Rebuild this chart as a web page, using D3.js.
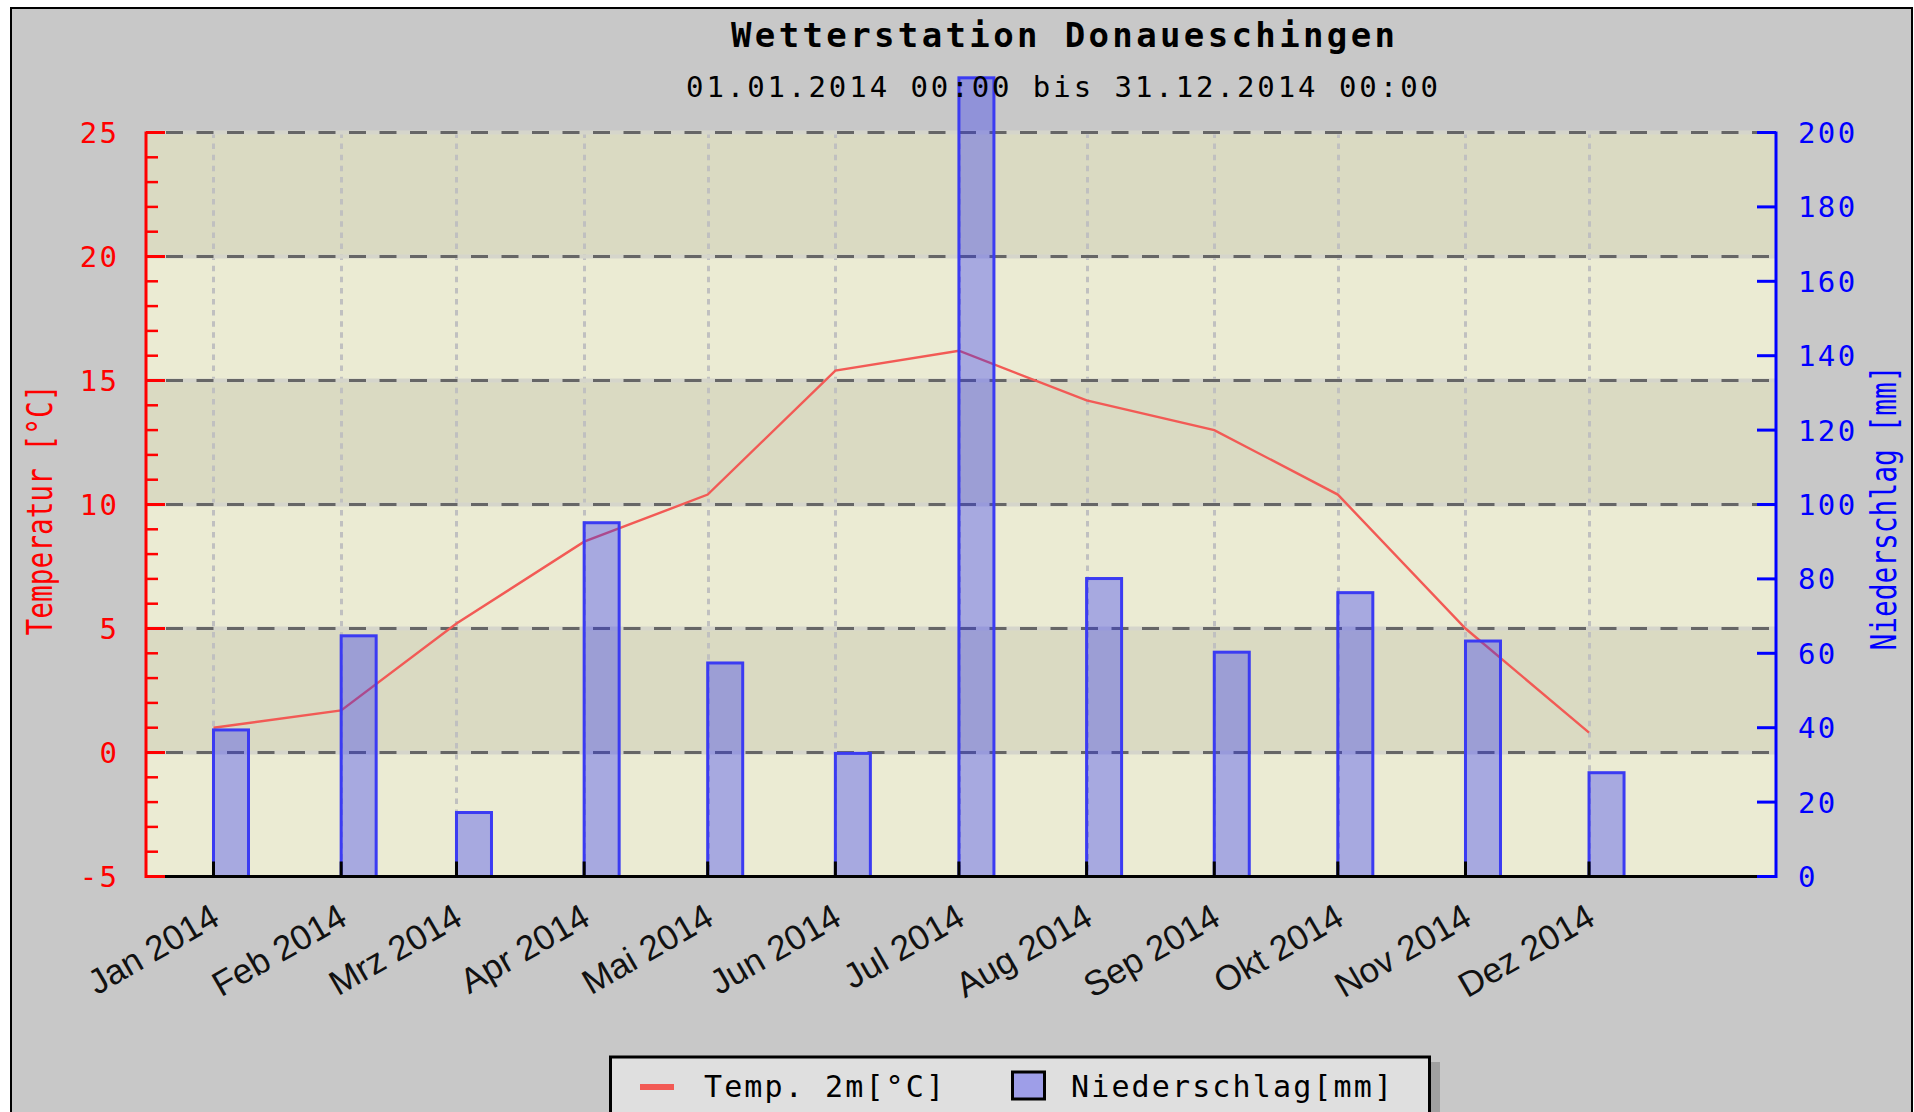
<!DOCTYPE html>
<html lang="de">
<head>
<meta charset="utf-8">
<title>Wetterstation Donaueschingen</title>
<script src="https://d3js.org/d3.v7.min.js"></script>
<style>
  html, body { margin: 0; padding: 0; background: #ffffff; overflow: hidden; }
  svg { display: block; }
  .mono { font-family: "DejaVu Sans Mono", "Liberation Mono", monospace; }
  .sans { font-family: "Liberation Sans", Arial, sans-serif; }
</style>
</head>
<body>
<div id="chart"></div>
<script>
/* ============================================================
   ============================================================ */

const MONTH_STARTS = [
  '2014-01-01', '2014-02-01', '2014-03-01', '2014-04-01',
  '2014-05-01', '2014-06-01', '2014-07-01', '2014-08-01',
  '2014-09-01', '2014-10-01', '2014-11-01', '2014-12-01',
];
const MONTH_LABELS = [
  'Jan 2014', 'Feb 2014', 'Mrz 2014', 'Apr 2014', 'Mai 2014', 'Jun 2014',
  'Jul 2014', 'Aug 2014', 'Sep 2014', 'Okt 2014', 'Nov 2014', 'Dez 2014',
];
const TEMPERATURE   = [1.0, 1.7, 5.2, 8.5, 10.4, 15.4, 16.2, 14.2, 13.0, 10.4, 5.0, 0.8];   // °C
const PRECIPITATION = [39.4, 64.7, 17.2, 95.1, 57.4, 33.1, 214.7, 80.1, 60.3, 76.3, 63.3, 27.9]; // mm

const TEMP_TICKS   = [-5, 0, 5, 10, 15, 20, 25];
const PRECIP_TICKS = [0, 20, 40, 60, 80, 100, 120, 140, 160, 180, 200];
const X_DOMAIN     = ['2013-12-15T14:40:00Z', '2015-01-15T09:30:00Z'];

const TITLE    = 'Wetterstation Donaueschingen';
const SUBTITLE = '01.01.2014 00:00 bis 31.12.2014 00:00';
const LEGEND   = ['Temp. 2m[°C]', 'Niederschlag[mm]'];


/* ============================================================
   LAYOUT
   ============================================================ */

const W = 1914, H = 1112;
const PLOT = { left: 146, right: 1776, top: 132.5, bottom: 876.5 };

const COLORS = {
  bg:        '#c8c8c8',
  bandLight: '#ebebd3',
  bandDark:  '#dadac2',
  gridH:     '#666666',
  gridHalo:  '#d5d5cb',
  gridV:     '#c0c0c0',
  temp:      '#f25a55',
  barFill:   'rgba(40, 45, 250, 0.35)',
  barStroke: '#3b3bf2',
  red:       '#ff0000',
  blue:      '#0000ff',
};

const svg = d3.select('#chart')
  .append('svg')
  .attr('width',  W)
  .attr('height', H);

/* Frame */
svg.append('rect')
  .attr('x', 11).attr('y', 8)
  .attr('width', 1901).attr('height', H)
  .attr('fill', COLORS.bg)
  .attr('stroke', '#000').attr('stroke-width', 2);

/* Scales */
const parse = d3.isoParse;
const months = MONTH_STARTS.map(d => parse(d + 'T00:00:00Z'));

const x = d3.scaleUtc()
  .domain(X_DOMAIN.map(parse))
  .range([PLOT.left, PLOT.right]);

const yT = d3.scaleLinear().domain([-5, 25]).range([PLOT.bottom, PLOT.top]);
const yP = d3.scaleLinear().domain([0, 200]).range([PLOT.bottom, PLOT.top]);

/* ============================================================
   PLOT BACKGROUND — alternating bands + grid
   ============================================================ */

const bands = d3.pairs(TEMP_TICKS);
svg.append('g')
  .selectAll('rect')
  .data(bands)
  .join('rect')
  .attr('x',      PLOT.left)
  .attr('width',  PLOT.right - PLOT.left)
  .attr('y',      d => yT(d[1]))
  .attr('height', d => yT(d[0]) - yT(d[1]))
  .attr('fill',   (d, i) => (bands.length - 1 - i) % 2 === 0 ? COLORS.bandDark : COLORS.bandLight);

// vertical month grid
svg.append('g')
  .selectAll('line')
  .data(months)
  .join('line')
  .attr('x1', d => Math.round(x(d)) + 0.5)
  .attr('x2', d => Math.round(x(d)) + 0.5)
  .attr('y1', PLOT.top)
  .attr('y2', PLOT.bottom)
  .attr('stroke', COLORS.gridV)
  .attr('stroke-width', 3)
  .attr('stroke-dasharray', '5.5 5.6');

// horizontal dashed grid (light line underneath, dark dashes on top)
const hGrid = svg.append('g');
const hTicks = TEMP_TICKS.filter(t => t > -5);
hGrid.selectAll('line.halo')
  .data(hTicks)
  .join('line')
  .attr('class', 'halo')
  .attr('x1', PLOT.left).attr('x2', PLOT.right)
  .attr('y1', d => yT(d)).attr('y2', d => yT(d))
  .attr('stroke', COLORS.gridHalo)
  .attr('stroke-width', 4);
hGrid.selectAll('line.dash')
  .data(hTicks)
  .join('line')
  .attr('class', 'dash')
  .attr('x1', PLOT.left + 20).attr('x2', PLOT.right)
  .attr('y1', d => yT(d)).attr('y2', d => yT(d))
  .attr('stroke', COLORS.gridH)
  .attr('stroke-width', 3)
  .attr('stroke-dasharray', '17 13.5');


/* ============================================================
   SERIES — temperature line below the translucent bars
   ============================================================ */

const tempLine = d3.line()
  .x((d, i) => x(months[i]))
  .y(d => yT(d));

svg.append('path')
  .datum(TEMPERATURE)
  .attr('d', tempLine)
  .attr('fill', 'none')
  .attr('stroke', COLORS.temp)
  .attr('stroke-width', 2.4);

const BAR_W = 35;
svg.append('g')
  .selectAll('rect')
  .data(PRECIPITATION)
  .join('rect')
  .attr('x',      (d, i) => x(months[i]))
  .attr('width',  BAR_W)
  .attr('y',      d => yP(d))
  .attr('height', d => yP(0) - yP(d))
  .attr('fill',   COLORS.barFill)
  .attr('stroke', COLORS.barStroke)
  .attr('stroke-width', 3);


/* ============================================================
   AXES
   ============================================================ */

// x axis: black baseline with short up-ticks
svg.append('line')
  .attr('x1', PLOT.left).attr('x2', PLOT.right)
  .attr('y1', PLOT.bottom).attr('y2', PLOT.bottom)
  .attr('stroke', '#000').attr('stroke-width', 3);

svg.append('g')
  .selectAll('line')
  .data(months)
  .join('line')
  .attr('x1', d => x(d)).attr('x2', d => x(d))
  .attr('y1', PLOT.bottom - 15).attr('y2', PLOT.bottom)
  .attr('stroke', '#000').attr('stroke-width', 3);

svg.append('g')
  .attr('class', 'sans')
  .selectAll('text')
  .data(months)
  .join('text')
  .attr('transform', d => `translate(${x(d) + 8},${PLOT.bottom + 47}) rotate(-30)`)
  .attr('text-anchor', 'end')
  .attr('font-size', 35)
  .attr('fill', '#111')
  .text((d, i) => MONTH_LABELS[i]);

// left axis (temperature, red)
const leftAxis = svg.append('g').attr('class', 'mono');
leftAxis.append('line')
  .attr('x1', PLOT.left).attr('x2', PLOT.left)
  .attr('y1', PLOT.top - 1).attr('y2', PLOT.bottom + 1.5)
  .attr('stroke', COLORS.red).attr('stroke-width', 3);

leftAxis.selectAll('line.minor')
  .data(d3.range(-5, 26, 1))
  .join('line')
  .attr('class', 'minor')
  .attr('x1', PLOT.left)
  .attr('x2', d => PLOT.left + (d % 5 === 0 ? 19 : 12))
  .attr('y1', d => yT(d)).attr('y2', d => yT(d))
  .attr('stroke', COLORS.red)
  .attr('stroke-width', d => d % 5 === 0 ? 3 : 2.5);

leftAxis.selectAll('text')
  .data(TEMP_TICKS)
  .join('text')
  .attr('x', 117 + 2.4)
  .attr('y', d => yT(d) + 10.5)
  .attr('text-anchor', 'end')
  .attr('font-size', 29)
  .attr('letter-spacing', 2.4)
  .attr('fill', COLORS.red)
  .text(d => d);

leftAxis.append('text')
  .attr('transform', 'translate(52,510) rotate(-90)')
  .attr('text-anchor', 'middle')
  .attr('font-size', 35)
  .attr('textLength', 251)
  .attr('lengthAdjust', 'spacingAndGlyphs')
  .attr('fill', COLORS.red)
  .text('Temperatur [°C]');

// right axis (precipitation, blue)
const rightAxis = svg.append('g').attr('class', 'mono');
rightAxis.append('line')
  .attr('x1', PLOT.right).attr('x2', PLOT.right)
  .attr('y1', PLOT.top - 1).attr('y2', PLOT.bottom + 1.5)
  .attr('stroke', COLORS.blue).attr('stroke-width', 3);

rightAxis.selectAll('line.tick')
  .data(PRECIP_TICKS)
  .join('line')
  .attr('class', 'tick')
  .attr('x1', PLOT.right - 19).attr('x2', PLOT.right)
  .attr('y1', d => yP(d)).attr('y2', d => yP(d))
  .attr('stroke', COLORS.blue).attr('stroke-width', 3);

rightAxis.selectAll('text')
  .data(PRECIP_TICKS)
  .join('text')
  .attr('x', 1798)
  .attr('y', d => yP(d) + 10.5)
  .attr('font-size', 29)
  .attr('letter-spacing', 2.4)
  .attr('fill', COLORS.blue)
  .text(d => d);

rightAxis.append('text')
  .attr('transform', 'translate(1896,508) rotate(-90)')
  .attr('text-anchor', 'middle')
  .attr('font-size', 35)
  .attr('textLength', 285)
  .attr('lengthAdjust', 'spacingAndGlyphs')
  .attr('fill', COLORS.blue)
  .text('Niederschlag [mm]');


/* ============================================================
   TITLES
   ============================================================ */

svg.append('text')
  .attr('class', 'mono')
  .attr('x', 1063).attr('y', 47)
  .attr('text-anchor', 'middle')
  .attr('font-size', 34)
  .attr('font-weight', 'bold')
  .attr('textLength', 664)
  .attr('lengthAdjust', 'spacing')
  .text(TITLE);

svg.append('text')
  .attr('class', 'mono')
  .attr('x', 1062).attr('y', 97)
  .attr('text-anchor', 'middle')
  .attr('font-size', 29)
  .attr('textLength', 752)
  .attr('lengthAdjust', 'spacing')
  .text(SUBTITLE);


/* ============================================================
   LEGEND
   ============================================================ */

const legend = svg.append('g').attr('class', 'mono');
legend.append('rect')
  .attr('x', 1431).attr('y', 1062)
  .attr('width', 9).attr('height', 80)
  .attr('fill', '#a0a0a0');
legend.append('rect')
  .attr('x', 610.5).attr('y', 1057)
  .attr('width', 819).attr('height', 100)
  .attr('fill', '#dfdfdf')
  .attr('stroke', '#000').attr('stroke-width', 3);

legend.append('line')
  .attr('x1', 640).attr('x2', 674)
  .attr('y1', 1087).attr('y2', 1087)
  .attr('stroke', COLORS.temp).attr('stroke-width', 6);
legend.append('text')
  .attr('x', 704).attr('y', 1097)
  .attr('font-size', 30)
  .attr('textLength', 240)
  .attr('lengthAdjust', 'spacing')
  .text(LEGEND[0]);

legend.append('rect')
  .attr('x', 1012.5).attr('y', 1072)
  .attr('width', 32).attr('height', 27)
  .attr('fill', '#9e9ee8')
  .attr('stroke', '#000').attr('stroke-width', 3);
legend.append('text')
  .attr('x', 1071).attr('y', 1097)
  .attr('font-size', 30)
  .attr('textLength', 321)
  .attr('lengthAdjust', 'spacing')
  .text(LEGEND[1]);
</script>
</body>
</html>
